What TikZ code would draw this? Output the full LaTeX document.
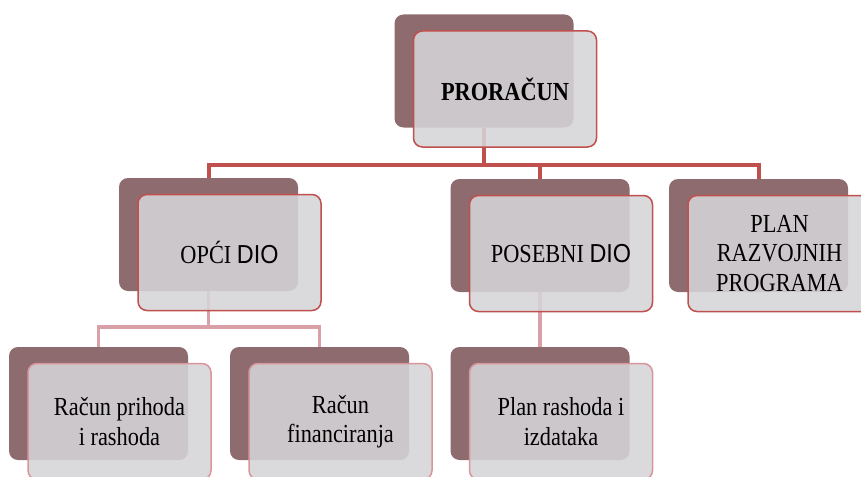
\documentclass[tikz,border=0pt]{standalone}
\usepackage{fontspec}
\setmainfont{Liberation Serif}[FakeStretch=0.86]
\newfontfamily\diofont{Liberation Sans}[FakeStretch=0.9]
\usepackage{tikz}

\definecolor{boxred}{HTML}{C0504D}
\definecolor{boxpink}{HTML}{D8969B}
\definecolor{linkpink}{HTML}{D9A1A7}
\definecolor{shademauve}{HTML}{8E6B6E}
\definecolor{glassgray}{HTML}{D5D4D7}

\begin{document}
\begin{tikzpicture}[x=1pt, y=-1pt, every node/.style = {shape=rectangle, rounded corners=9pt, align=center, inner sep=0pt, font=\fontsize{26}{29.5}\selectfont}, backbox/.style = {fill=shademauve, minimum width=179pt, minimum height=113pt}, frontbox/.style = {draw=boxred, line width=1.5pt, fill=glassgray, fill opacity=0.88, text opacity=1, minimum width=183pt, minimum height=116pt}, leafbox/.style = {frontbox, draw=boxpink}, trunk/.style = {draw=boxred, line width=4pt}, branch/.style = {draw=linkpink, line width=3.5pt}]
\clip (0,0) rectangle (861,476);
\foreach \nm/\px/\py in {root/505/89, opci/229.5/252.5, posebni/561/253.5, plan/779.5/253.5, prihodi/119.5/421.5, financ/340.5/421.5, rashodi/561/421.5}
	\node[backbox] (\nm-back) at ([shift={(-21,-18)}]\px,\py) {};
\draw[trunk] (root-back.south) -- ++(0,37) -| (opci-back.north);
\draw[trunk] (root-back.south) -- ++(0,37) -| (posebni-back.north);
\draw[trunk] (root-back.south) -- ++(0,37) -| (plan-back.north);
\draw[branch] (opci-back.south) -- ++(0,36) -| (prihodi-back.north);
\draw[branch] (opci-back.south) -- ++(0,36) -| (financ-back.north);
\draw[branch] (posebni-back.south) -- (rashodi-back.north);
\foreach \nm/\px/\py/\st/\txt in {root/505/89/frontbox/{\textbf{PRORAČUN}}, opci/229.5/252.5/frontbox/{OPĆI {\diofont DIO}}, posebni/561/253.5/frontbox/{POSEBNI {\diofont DIO}}, plan/779.5/253.5/frontbox/{PLAN\\ RAZVOJNIH\\ PROGRAMA}, prihodi/119.5/421.5/leafbox/{Račun prihoda\\ i rashoda}, financ/340.5/421.5/leafbox/{Račun\\ financiranja}, rashodi/561/421.5/leafbox/{Plan rashoda i\\ izdataka}}
	\node[\st] (\nm) at (\px,\py) {\txt};
\end{tikzpicture}
\end{document}
